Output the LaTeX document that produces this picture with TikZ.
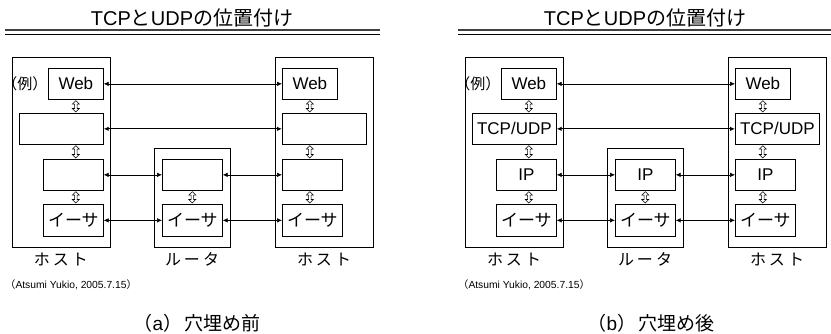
\documentclass[tikz,border=0pt]{standalone}
\usepackage{fontspec}
\setmainfont{Liberation Sans}
\newfontfamily\jp{Noto Sans CJK JP}
\usetikzlibrary{arrows.meta, calc}

\tikzset{
	title/.style={font=\fontsize{20}{20}\selectfont},
	rulethick/.style={line width=2pt, black!75},
	rulethin/.style={line width=1pt},
	machine/.style={draw, line width=0.8pt, inner sep=0pt, anchor=north west},
	layer/.style={draw, line width=0.7pt, inner sep=0pt, anchor=north west, font=\fontsize{17}{17}\selectfont},
	machlabel/.style={font=\jp\fontsize{16}{16}\selectfont},
	example/.style={anchor=east, inner sep=0.5pt, font=\jp\fontsize{15}{15}\selectfont},
	credit/.style={anchor=west, inner sep=0pt, font=\fontsize{10.3}{10}\selectfont},
	caption/.style={font=\fontsize{19}{19}\selectfont},
	peer/.style={{Latex[length=5pt,width=4.5pt]}-{Latex[length=5pt,width=4.5pt]}, line width=0.6pt},
	peerbold/.style={peer, line width=1.3pt},
	% hollow up/down arrow between two stacked layers
	updown/.style={line width=0.55pt, to path={
		let \p1=(\tikztostart), \p2=(\tikztotarget) in
		(\x1,\y1-1pt) -- (\x1+3.5pt,\y1-4.5pt) -- (\x1+1.2pt,\y1-4.5pt)
		-- (\x1+1.2pt,\y2+4.5pt) -- (\x1+3.5pt,\y2+4.5pt) -- (\x1,\y2+1pt)
		-- (\x1-3.5pt,\y2+4.5pt) -- (\x1-1.2pt,\y2+4.5pt)
		-- (\x1-1.2pt,\y1-4.5pt) -- (\x1-3.5pt,\y1-4.5pt) -- cycle}},
}

\begin{document}
\begin{tikzpicture}[x=1pt, y=-1pt]
	\useasboundingbox (0,0) rectangle (831,334);

	% (a) before filling in the layers
	\node [title] (atitle) at (192,18) {TCP{\jp と}UDP{\jp の位置付け}};
	\draw [rulethick] (5,30.5) -- (380,30.5);
	\draw [rulethin] (5,34.5) -- (380,34.5);

	\node [machine, minimum width=98pt, minimum height=190pt] (ahost1) at (12,57) {};
	\node [machine, minimum width=76pt, minimum height=99pt] (arouter) at (154,148) {};
	\node [machine, minimum width=98pt, minimum height=190pt] (ahost2) at (275,57) {};

	\node [layer, minimum width=55pt, minimum height=31pt] (aweb1) at (48,68) {Web};
	\node [layer, minimum width=84pt, minimum height=31pt] (atcp1) at (19,113) {};
	\node [layer, minimum width=60pt, minimum height=31pt] (aip1) at (43,159) {};
	\node [layer, minimum width=60pt, minimum height=32pt] (aeth1) at (43,204) {\jp イーサ};
	\node [example] (aex) at (aweb1.west) {（例）};

	\node [layer, minimum width=60pt, minimum height=31pt] (arip) at (162,159) {};
	\node [layer, minimum width=60pt, minimum height=32pt] (areth) at (162,204) {\jp イーサ};

	\node [layer, minimum width=55pt, minimum height=31pt] (aweb2) at (282,68) {Web};
	\node [layer, minimum width=84pt, minimum height=31pt] (atcp2) at (282,113) {};
	\node [layer, minimum width=60pt, minimum height=31pt] (aip2) at (282,159) {};
	\node [layer, minimum width=60pt, minimum height=32pt] (aeth2) at (282,204) {\jp イーサ};

	\draw [updown] (aweb1.south) to (atcp1.north -| aweb1.south);
	\draw [updown] (atcp1.south -| aweb1.south) to (aip1.north -| aweb1.south);
	\draw [updown] (aip1.south -| aweb1.south) to (aeth1.north -| aweb1.south);
	\draw [updown] (arip.south) to (areth.north);
	\draw [updown] (aweb2.south) to (atcp2.north -| aweb2.south);
	\draw [updown] (atcp2.south -| aweb2.south) to (aip2.north -| aweb2.south);
	\draw [updown] (aip2.south -| aweb2.south) to (aeth2.north -| aweb2.south);

	\draw [peer] (aweb1) -- (aweb2);
	\draw [peerbold] (atcp1) -- (atcp2);
	\draw [peer] (aip1) -- (arip);
	\draw [peer] (arip) -- (aip2);
	\draw [peer] (aeth1) -- (areth);
	\draw [peer] (areth) -- (aeth2);

	\node [machlabel] (ahostname1) at (61,259) {ホ\hspace{3pt}ス\hspace{3pt}ト};
	\node [machlabel] (aroutername) at (192,259) {ル\hspace{3pt}ー\hspace{3pt}タ};
	\node [machlabel] (ahostname2) at (324,259) {ホ\hspace{3pt}ス\hspace{3pt}ト};
	\node [credit] (acredit) at (5,285) {{\jp （}Atsumi Yukio, 2005.7.15{\jp ）}};
	\node [caption] (acaption) at (197,323) {{\jp （}a{\jp ）\hspace{2pt}穴埋め前}};

	% (b) after filling in the layers
	\node [title] (btitle) at (645,18) {TCP{\jp と}UDP{\jp の位置付け}};
	\draw [rulethick] (458,30.5) -- (831,30.5);
	\draw [rulethin] (458,34.5) -- (831,34.5);

	\node [machine, minimum width=98pt, minimum height=190pt] (bhost1) at (465,57) {};
	\node [machine, minimum width=76pt, minimum height=99pt] (brouter) at (607,148) {};
	\node [machine, minimum width=98pt, minimum height=190pt] (bhost2) at (728,57) {};

	\node [layer, minimum width=55pt, minimum height=31pt] (bweb1) at (501,68) {Web};
	\node [layer, minimum width=84pt, minimum height=31pt] (btcp1) at (472,113) {TCP/UDP};
	\node [layer, minimum width=60pt, minimum height=31pt] (bip1) at (496,159) {IP};
	\node [layer, minimum width=60pt, minimum height=32pt] (beth1) at (496,204) {\jp イーサ};
	\node [example] (bex) at (bweb1.west) {（例）};

	\node [layer, minimum width=60pt, minimum height=31pt] (brip) at (615,159) {IP};
	\node [layer, minimum width=60pt, minimum height=32pt] (breth) at (615,204) {\jp イーサ};

	\node [layer, minimum width=55pt, minimum height=31pt] (bweb2) at (735,68) {Web};
	\node [layer, minimum width=84pt, minimum height=31pt] (btcp2) at (735,113) {TCP/UDP};
	\node [layer, minimum width=60pt, minimum height=31pt] (bip2) at (735,159) {IP};
	\node [layer, minimum width=60pt, minimum height=32pt] (beth2) at (735,204) {\jp イーサ};

	\draw [updown] (bweb1.south) to (btcp1.north -| bweb1.south);
	\draw [updown] (btcp1.south -| bweb1.south) to (bip1.north -| bweb1.south);
	\draw [updown] (bip1.south -| bweb1.south) to (beth1.north -| bweb1.south);
	\draw [updown] (brip.south) to (breth.north);
	\draw [updown] (bweb2.south) to (btcp2.north -| bweb2.south);
	\draw [updown] (btcp2.south -| bweb2.south) to (bip2.north -| bweb2.south);
	\draw [updown] (bip2.south -| bweb2.south) to (beth2.north -| bweb2.south);

	\draw [peer] (bweb1) -- (bweb2);
	\draw [peerbold] (btcp1) -- (btcp2);
	\draw [peer] (bip1) -- (brip);
	\draw [peer] (brip) -- (bip2);
	\draw [peer] (beth1) -- (breth);
	\draw [peer] (breth) -- (beth2);

	\node [machlabel] (bhostname1) at (514,259) {ホ\hspace{3pt}ス\hspace{3pt}ト};
	\node [machlabel] (broutername) at (645,259) {ル\hspace{3pt}ー\hspace{3pt}タ};
	\node [machlabel] (bhostname2) at (777,259) {ホ\hspace{3pt}ス\hspace{3pt}ト};
	\node [credit] (bcredit) at (458,285) {{\jp （}Atsumi Yukio, 2005.7.15{\jp ）}};
	\node [caption] (bcaption) at (651,323) {{\jp （}b{\jp ）\hspace{2pt}穴埋め後}};
\end{tikzpicture}
\end{document}
